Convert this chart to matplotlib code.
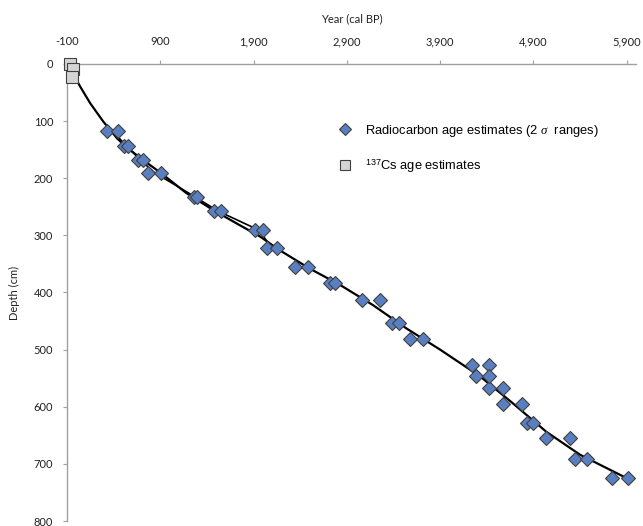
import matplotlib.pyplot as plt
from matplotlib.lines import Line2D

plt.rcParams['mathtext.fontset'] = 'custom'
plt.rcParams['mathtext.rm'] = 'Liberation Sans'
plt.rcParams['mathtext.it'] = 'Liberation Serif:italic'

# Radiocarbon 2 sigma ranges (young / old end) per sample depth
rc_depth = [118, 143, 168, 190, 233, 257, 291, 322, 356, 383, 413,
            453, 482, 527, 546, 567, 596, 629, 655, 691, 725]
rc_young = [332, 514, 664, 765, 1264, 1476, 1915, 2040, 2344, 2719, 3065,
            3380, 3576, 4238, 4284, 4426, 4576, 4827, 5031, 5345, 5738]
rc_old = [450, 557, 711, 907, 1290, 1551, 2004, 2147, 2486, 2772, 3255,
          3462, 3719, 4423, 4423, 4576, 4780, 4898, 5291, 5470, 5916]

# 137Cs ages
cs_year = [-68, -40, -45]
cs_depth = [0, 8, 22]

# smooth age-depth model
model_year = [-65, 43, 150, 290, 436, 540, 690, 900, 1180, 1470,
              1750, 1970, 2180, 2500, 2830, 3180, 3540, 3900, 4330, 4680,
              5040, 5400, 5900]
model_depth = [8, 40, 69, 101, 130, 146, 165, 190, 226, 256,
               282, 302, 326, 358, 387, 422, 463, 500, 547, 594, 644, 684, 725]

# upper part of the model drawn through the range midpoints
n_mid = 8
mid_year = [(a + b) / 2 for a, b in zip(rc_young[:n_mid], rc_old[:n_mid])]
mid_depth = rc_depth[:n_mid]

xticks = [-100, 900, 1900, 2900, 3900, 4900, 5900]
xtick_labels = ['-100', '900', '1,900', '2,900', '3,900', '4,900', '5,900']
yticks = [0, 100, 200, 300, 400, 500, 600, 700, 800]

fig = plt.figure(figsize=(6.43, 5.26), dpi=100)
ax = fig.add_axes([67 / 643, 1 - 521 / 526, 569 / 643, 457 / 526])

blue = '#5a7fc0'
edge = '#404040'

ax.plot(model_year, model_depth, color='black', lw=1.6, zorder=2)
ax.plot(mid_year, mid_depth, color='black', lw=1.2, zorder=2)

ax.plot(rc_young, rc_depth, ls='none', marker='D', ms=7.5, mfc=blue, mec=edge, mew=0.8, zorder=3)
ax.plot(rc_old, rc_depth, ls='none', marker='D', ms=7.5, mfc=blue, mec=edge, mew=0.8, zorder=3)
ax.plot(cs_year, cs_depth, ls='none', marker='s', ms=9, mfc='#d4d4d4', mec=edge, mew=0.8,
        zorder=3, clip_on=False)

ax.set_xlim(-100, 6000)
ax.set_ylim(800, 0)
ax.xaxis.tick_top()
ax.xaxis.set_label_position('top')
ax.set_xticks(xticks)
ax.set_xticklabels(xtick_labels)
ax.set_yticks(yticks)

for s in ['right', 'bottom']:
    ax.spines[s].set_visible(False)
for s in ['top', 'left']:
    ax.spines[s].set_color('#a0a0a0')
    ax.spines[s].set_linewidth(1.0)

ax.tick_params(axis='both', direction='out', length=3, color='#a0a0a0',
               labelsize=8, labelcolor='#222222')
ax.tick_params(axis='x', pad=9)
ax.tick_params(axis='y', pad=7)
for lab in ax.get_xticklabels() + ax.get_yticklabels():
    lab.set_family('Lato')

ax.set_xlabel('Year (cal BP)', family='Lato', fontsize=8, color='#222222', labelpad=10)
ax.set_ylabel('Depth (cm)', family='Lato', fontsize=8, color='#222222', labelpad=9.5)

handles = [
    Line2D([], [], ls='none', marker='D', ms=6, mfc=blue, mec=edge, mew=0.8),
    Line2D([], [], ls='none', marker='s', ms=7, mfc='#d4d4d4', mec=edge, mew=0.8),
]
labels = [r'Radiocarbon age estimates (2 $\sigma$  ranges)',
          r'$^{\mathrm{137}}$Cs age estimates']
ax.legend(handles, labels, loc='upper left', bbox_to_anchor=(0.469, 0.883),
          frameon=False, prop={'family': 'Liberation Sans', 'size': 9.3},
          handlelength=1.0, handletextpad=1.0, labelspacing=1.45,
          borderaxespad=0, numpoints=1)

plt.savefig('out.png', dpi=100)
